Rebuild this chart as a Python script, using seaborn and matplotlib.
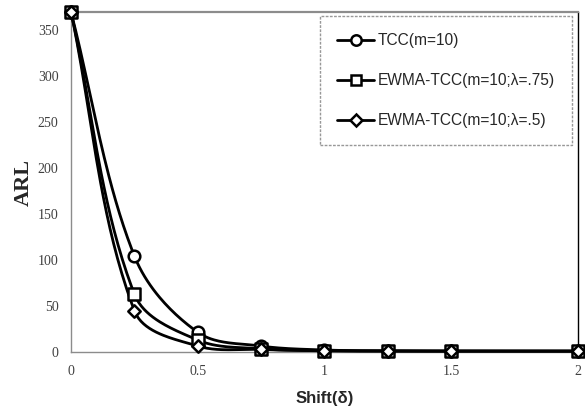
import numpy as np
import pandas as pd
import matplotlib
matplotlib.use("Agg")
import matplotlib.pyplot as plt
import seaborn as sns
from matplotlib.lines import Line2D

# Shift sizes and average run lengths for each chart
shift = [0, 0.25, 0.5, 0.75, 1, 1.25, 1.5, 2]
arl_tcc = [370, 104.5, 21.5, 6.5, 2.2, 1.3, 1.1, 1.0]
arl_ewma75 = [370, 63, 13, 3.5, 1.5, 1.1, 1.0, 1.0]
arl_ewma50 = [370, 45, 6.5, 2.8, 1.3, 1.05, 1.0, 1.0]
series_labels = ["TCC(m=10)", "EWMA-TCC(m=10;λ=.75)", "EWMA-TCC(m=10;λ=.5)"]
series_markers = ["o", "s", "D"]
series_sizes = [70, 70, 40]
x_ticks = [0, 0.5, 1, 1.5, 2]
y_ticks = [0, 50, 100, 150, 200, 250, 300, 350]

sns.set_style("white")
plt.rcParams["font.family"] = ["Liberation Serif", "DejaVu Serif"]

fig = plt.figure(figsize=(5.85, 4.16), dpi=100)
ax = fig.add_axes([0.1214, 0.1538, 0.8666, 0.8172])

XMAX, YMAX = 2.0, 370.0
W_PX, H_PX = 507.0, 340.0


def smooth_curve(x, y, n=40):
    """Bezier smoothing through the points, handles limited by chord length."""
    sx, sy = W_PX / XMAX, H_PX / YMAX
    P = np.column_stack([np.asarray(x, float) * sx, np.asarray(y, float) * sy])
    Pe = np.vstack([P[0], P, P[-1]])
    dirs = []
    for i in range(len(P)):
        d = Pe[i + 2] - Pe[i]
        dirs.append(d / np.linalg.norm(d))
    t = np.linspace(0, 1, n)[:, None]
    segs = []
    for i in range(len(P) - 1):
        p1, p2 = P[i], P[i + 1]
        h = np.linalg.norm(p2 - p1) / 3.0
        b1 = p1 + dirs[i] * h
        b2 = p2 - dirs[i + 1] * h
        seg = (1 - t) ** 3 * p1 + 3 * (1 - t) ** 2 * t * b1 + 3 * (1 - t) * t ** 2 * b2 + t ** 3 * p2
        segs.append(seg if i == 0 else seg[1:])
    pts = np.vstack(segs)
    return pts[:, 0] / sx, pts[:, 1] / sy


all_series = [arl_tcc, arl_ewma75, arl_ewma50]
for vals in all_series:
    cx, cy = smooth_curve(shift, vals)
    sns.lineplot(x=cx, y=cy, sort=False, estimator=None, color="black",
                 linewidth=2.0, ax=ax, clip_on=False, zorder=3)
for vals, mk, sz in zip(all_series, series_markers, series_sizes):
    df = pd.DataFrame({"shift": shift, "arl": vals})
    sns.scatterplot(data=df, x="shift", y="arl", marker=mk, s=sz, color="white",
                    edgecolor="black", linewidth=1.8, ax=ax, clip_on=False, zorder=4)

ax.set_xlim(0, XMAX)
ax.set_ylim(0, YMAX)
ax.set_xticks(x_ticks)
ax.set_xticklabels([f"{v:g}" for v in x_ticks])
ax.set_yticks(y_ticks)
ax.tick_params(axis="both", length=0, labelsize=10, labelcolor="#404040")
ax.tick_params(axis="x", pad=9)
ax.tick_params(axis="y", pad=9)

for side in ["left", "bottom", "top"]:
    ax.spines[side].set_color("#8c8c8c")
    ax.spines[side].set_linewidth(1.0)
ax.spines["top"].set_linewidth(1.6)
ax.spines["right"].set_color("black")
ax.spines["right"].set_linewidth(1.0)

ax.set_ylabel("ARL", fontsize=16, fontweight="bold", family=["Liberation Serif"], labelpad=3)
ax.set_xlabel("Shift(δ)", fontsize=12, fontweight="bold", family=["Liberation Sans"], labelpad=10,
              color="#262626")

handles = [Line2D([0], [0], color="black", lw=2.0, marker=mk, markersize=ms,
                  markerfacecolor="white", markeredgecolor="black", markeredgewidth=1.8)
           for mk, ms in zip(series_markers, [7.5, 7.5, 6])]
leg = ax.legend(handles, series_labels, loc="upper left", bbox_to_anchor=(0.491, 0.988),
                prop={"family": "Liberation Sans", "size": 11.2}, frameon=True, fancybox=False,
                handlelength=2.4, handletextpad=0.2, labelspacing=1.6, borderpad=1.1,
                borderaxespad=0.0)
frame = leg.get_frame()
frame.set_linestyle((0, (2, 1)))
frame.set_edgecolor("#7f7f7f")
frame.set_linewidth(1.0)
for txt in leg.get_texts():
    txt.set_color("#262626")

fig.savefig("out.png", dpi=100)
